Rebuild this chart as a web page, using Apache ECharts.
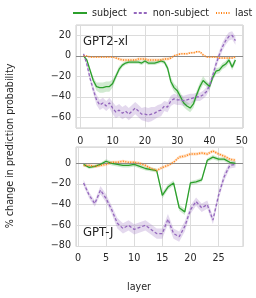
<!DOCTYPE html>
<html>
<head>
<meta charset="utf-8">
<script src="https://cdn.jsdelivr.net/npm/echarts@6/dist/echarts.min.js"></script>
<style>html,body{margin:0;padding:0;background:#fff;}#c{width:256px;height:298px;}</style>
</head>
<body>
<div id="c"></div>
<script>
// ---- data ----
const seriesNames = ['subject', 'non-subject', 'last'];
const layersTop = Array.from({length: 48}, (_, i) => i + 1);
const layersBot = Array.from({length: 28}, (_, i) => i + 1);

const subjTop = [0,-4,-14,-24,-30,-31,-31,-30,-30,-27,-20,-13,-9,-7,-6,-6,-6,-6,-7,-5,-7,-7,-7,-6,-5,-6,-12,-25,-31,-34,-40,-46,-49,-51,-47,-38,-30,-24,-27,-30,-21,-15,-14,-10,-8,-4,-11,-4];
const nonTop  = [2,-8,-22,-33,-43,-48,-46,-49,-46,-51,-55,-53,-56,-54,-57,-54,-51,-54,-57,-57,-58,-57,-56,-54,-53,-49,-50,-44,-42,-43,-43,-44,-43,-42,-41,-40,-40,-38,-35,-29,-19,-8,1,9,15,19,20,15];
const lastTop = [0,0,-1,-1,-1,-1,-1,-1,-1,-1,-2,-3,-4,-4,-4,-4,-4,-3,-3,-3,-4,-4,-4,-4,-4,-3,-3,-2,0,1,2,2,2,3,3,4,4,1,-1,-1,-1,-1,-2,-2,-2,-2,-2,-1];

const subjTopHW = [0.5,1,2,3,4,5,5,5,5,4,3,3,2,2,2,2,2,2,2,2,2,2,2,2,2,2,3,4,4,4,4,4,4,4,4,4,4,4,3,3,3,3,3,3,3,3,3,3];
const nonTopHW  = [1,2,3,4,5,5,5,5,5,6,6,6,6,6,6,6,6,6,6,7,7,7,6,6,6,5,5,5,5,5,5,5,5,5,4,4,4,4,4,4,4,4,4,4,4,4,4,4];
const lastTopHW = [0.5,0.5,1,1,1,1,1,1,1,1,1,1.5,1.5,1.5,1.5,1.5,1.5,1.5,1.5,1.5,1.5,1.5,1.5,1.5,1.5,1.5,1.5,1.5,1,1,1,1,1,1,1,1,1,1,1,1,1,1,1,1,1,1,1,1];

const subjBot = [-1,-4,-3,-1,2,0,-1,-2,-2,-1,-3,-5,-6,-7,-31,-23,-19,-43,-47,-19,-18,-16,3,6,4,4,1,0];
const nonBot  = [-19,-31,-39,-26,-34,-45,-58,-63,-60,-64,-62,-60,-64,-68,-68,-54,-68,-71,-61,-45,-37,-43,-40,-55,-31,-13,-2,-1];
const lastBot = [-2,-2,-3,-2,-1,1,1,2,1,1,0,-2,-5,-7,-4,-2,1,6,7,9,9,10,9,12,9,7,4,3];

const subjBotHW = [1.5,1.5,1.5,1.5,2,2,2,2,2,2,2,2,2,2,3,2.5,2.5,3,3,2,2,2,2,2,2,2,2,2];
const nonBotHW  = [3,3,3,4,4,4,5,5,5,5,5,5,5,5,5,5,5,5,5,4,4,4,4,4,4,4,3,3];
const lastBotHW = [1.5,1.5,1.5,1.5,1.5,1.5,1.5,1.5,1.5,1.5,1.5,1.5,1.5,1.5,1.5,1.5,1.5,1.5,1.5,1.5,1.5,1.5,1.5,1.5,1.5,1.5,1.5,1.5];

const panelTitles = ['GPT2-xl', 'GPT-J'];
const xTitle = 'layer';
const yTitle = '% change in prediction probability';

// ---- styling ----
const colors = ['#2ca02c', '#9467bd', '#ff7f0e'];
const bandColors = ['rgba(44,160,44,0.22)', 'rgba(148,103,189,0.25)', 'rgba(255,127,14,0.25)'];
const lineTypes = ['solid', [3, 2], [1, 1.5]];
const lineWidths = [1.3, 1.3, 1.5];
const FONT = 'DejaVu Sans';
const FS = 9.6;

function fmt(v) {
  if (Math.abs(v - Math.round(v)) > 1e-6) return '';
  return String(Math.round(v)).replace('-', '\u2212');
}

const panels = [
  {layers: layersTop, vals: [subjTop, nonTop, lastTop], hws: [subjTopHW, nonTopHW, lastTopHW]},
  {layers: layersBot, vals: [subjBot, nonBot, lastBot], hws: [subjBotHW, nonBotHW, lastBotHW]}
];

const series = [];
panels.forEach((p, gi) => {
  p.vals.forEach((vals, si) => {
    const hw = p.hws[si];
    const bandData = vals.map((v, i) => [p.layers[i], v - hw[i], v + hw[i]]);
    series.push({
      name: '_band' + gi + si, type: 'custom', xAxisIndex: gi, yAxisIndex: gi,
      data: bandData, encode: {x: 0, y: [1, 2]}, silent: true, z: 1, clip: true,
      renderItem: function (params, api) {
        if (params.dataIndex !== 0) return null;
        const pts = [];
        for (let i = 0; i < bandData.length; i++) pts.push(api.coord([bandData[i][0], bandData[i][2]]));
        for (let i = bandData.length - 1; i >= 0; i--) pts.push(api.coord([bandData[i][0], bandData[i][1]]));
        return {type: 'polygon', shape: {points: pts}, style: {fill: bandColors[si], stroke: null}};
      }
    });
  });
  p.vals.forEach((vals, si) => {
    const s = {
      name: seriesNames[si], type: 'line', xAxisIndex: gi, yAxisIndex: gi,
      data: vals.map((v, i) => [p.layers[i], v]), symbol: 'none',
      color: colors[si],
      lineStyle: {color: colors[si], width: lineWidths[si], type: lineTypes[si]},
      z: 3
    };
    if (si === 0) {
      s.markLine = {
        silent: true, symbol: 'none', label: {show: false},
        lineStyle: {color: '#8a8a8a', width: 1.2, type: 'solid'},
        data: [{yAxis: 0}], z: 2
      };
    }
    series.push(s);
  });
});

const axisCommon = {
  axisLine: {show: false}, axisTick: {show: false},
  splitLine: {show: true, lineStyle: {color: '#dcdcdc', width: 1}},
  axisLabel: {color: '#262626', fontFamily: FONT, fontSize: FS, formatter: fmt, showMinLabel: false, showMaxLabel: false}
};

const option = {
  animation: false,
  backgroundColor: '#ffffff',
  textStyle: {fontFamily: FONT},
  legend: {
    data: seriesNames, top: 8, left: 72, width: 184, padding: 0,
    itemWidth: 14, itemHeight: 6, itemGap: 6,
    itemStyle: {opacity: 0},
    textStyle: {fontFamily: FONT, fontSize: FS, color: '#262626'},
    selectedMode: false
  },
  grid: [
    {left: 76, top: 25, width: 167, height: 103, show: true, borderColor: '#cccccc', borderWidth: 1, backgroundColor: '#fff'},
    {left: 76, top: 147, width: 167, height: 99.5, show: true, borderColor: '#cccccc', borderWidth: 1, backgroundColor: '#fff'}
  ],
  xAxis: [
    Object.assign({}, axisCommon, {type: 'value', gridIndex: 0, min: -1.35, max: 50.35, splitNumber: 5,
      axisLabel: Object.assign({}, axisCommon.axisLabel, {margin: 8})}),
    Object.assign({}, axisCommon, {type: 'value', gridIndex: 1, min: -0.35, max: 29.35, splitNumber: 6,
      axisLabel: Object.assign({}, axisCommon.axisLabel, {margin: 7})})
  ],
  yAxis: [
    Object.assign({}, axisCommon, {type: 'value', gridIndex: 0, min: -70.5, max: 30.2, splitNumber: 5,
      axisLabel: Object.assign({}, axisCommon.axisLabel, {margin: 5})}),
    Object.assign({}, axisCommon, {type: 'value', gridIndex: 1, min: -80.5, max: 15.8, splitNumber: 5,
      axisLabel: Object.assign({}, axisCommon.axisLabel, {margin: 5})})
  ],
  graphic: [
    {type: 'text', left: 83, top: 36, z: 10, style: {text: panelTitles[0], fontFamily: FONT, fontSize: 11.7, fill: '#262626'}},
    {type: 'text', left: 83, top: 227, z: 10, style: {text: panelTitles[1], fontFamily: FONT, fontSize: 11.7, fill: '#262626'}},
    {type: 'text', x: 10, y: 146, rotation: Math.PI / 2, z: 10,
      style: {text: yTitle, fontFamily: FONT, fontSize: FS, fill: '#262626', align: 'center', verticalAlign: 'middle'}},
    {type: 'text', x: 139, y: 287, z: 10,
      style: {text: xTitle, fontFamily: FONT, fontSize: FS, fill: '#262626', align: 'center', verticalAlign: 'middle'}}
  ],
  series: series
};

const chart = echarts.init(document.getElementById('c'), null, {renderer: 'canvas'});
chart.setOption(option);
</script>
</body>
</html>
